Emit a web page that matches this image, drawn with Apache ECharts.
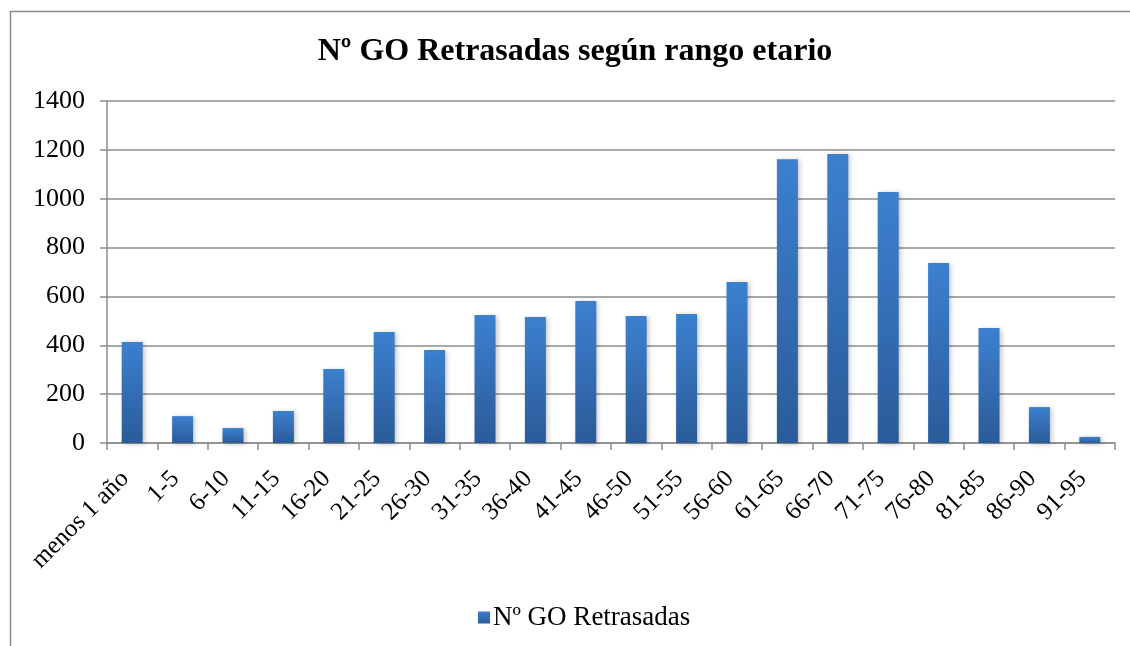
<!DOCTYPE html>
<html>
<head>
<meta charset="utf-8">
<style>
  html, body { margin: 0; padding: 0; background: #fff; }
  #chart { width: 1130px; height: 646px; }
</style>
<script src="https://cdn.jsdelivr.net/npm/echarts@6/dist/echarts.min.js"></script>
</head>
<body>
<div id="chart"></div>
<script>
// rangos de edad
const categories = ['menos 1 año', '1-5', '6-10', '11-15', '16-20', '21-25', '26-30', '31-35', '36-40', '41-45',
  '46-50', '51-55', '56-60', '61-65', '66-70', '71-75', '76-80', '81-85', '86-90', '91-95'];
// Nº GO Retrasadas
const retrasadas = [413, 110, 61, 131, 303, 454, 381, 524, 516, 581,
  520, 528, 659, 1162, 1183, 1027, 737, 471, 147, 25];
const yTicks = [0, 200, 400, 600, 800, 1000, 1200, 1400];

const serif = "'Liberation Serif', 'Times New Roman', serif";
const gray = '#8c8c8c';

const myChart = echarts.init(document.getElementById('chart'));

const option = {
  animation: false,
  backgroundColor: '#fff',
  title: {
    text: 'Nº GO Retrasadas según rango etario',
    left: 570,
    textAlign: 'center',
    top: 31,
    textStyle: { fontFamily: serif, fontWeight: 'bold', fontSize: 32, color: '#000' }
  },
  legend: {
    bottom: 10,
    left: 473,
    itemWidth: 12,
    itemHeight: 12,
    itemGap: 4,
    icon: 'rect',
    textStyle: { fontFamily: serif, fontSize: 27, color: '#000', padding: [0, 0, 0, -2] },
    data: ['Nº GO Retrasadas']
  },
  grid: { left: 107, right: 15, top: 101, bottom: 203 },
  xAxis: {
    type: 'category',
    data: categories,
    axisLine: { lineStyle: { color: gray, width: 1.5 } },
    axisTick: { show: true, length: 7, lineStyle: { color: gray, width: 1.5 } },
    axisLabel: {
      rotate: 45, margin: 25, padding: [0, 10, 0, 0],
      fontFamily: serif, fontSize: 25, color: '#000', interval: 0
    }
  },
  yAxis: {
    type: 'value',
    min: 0,
    max: yTicks[yTicks.length - 1],
    interval: 200,
    axisLine: { show: true, lineStyle: { color: gray, width: 1.5 } },
    axisTick: { show: true, length: 7, lineStyle: { color: gray, width: 1.5 } },
    axisLabel: { margin: 22, fontFamily: serif, fontSize: 26, color: '#000', formatter: v => String(v) },
    splitLine: { lineStyle: { color: gray, width: 1.5 } }
  },
  graphic: [{
    type: 'rect',
    z: -1,
    shape: { x: 10.5, y: 11.5, width: 1200, height: 700 },
    style: { fill: 'none', stroke: gray, lineWidth: 1.5 }
  }],
  series: [{
    name: 'Nº GO Retrasadas',
    type: 'bar',
    data: retrasadas,
    barWidth: 21,
    itemStyle: {
      color: new echarts.graphic.LinearGradient(0, 0, 0, 1, [
        { offset: 0, color: '#3c80d0' },
        { offset: 1, color: '#2b5b98' }
      ]),
      shadowBlur: 5,
      shadowOffsetX: 2,
      shadowOffsetY: 1,
      shadowColor: 'rgba(0,0,0,0.25)'
    }
  }]
};

myChart.setOption(option);
</script>
</body>
</html>
